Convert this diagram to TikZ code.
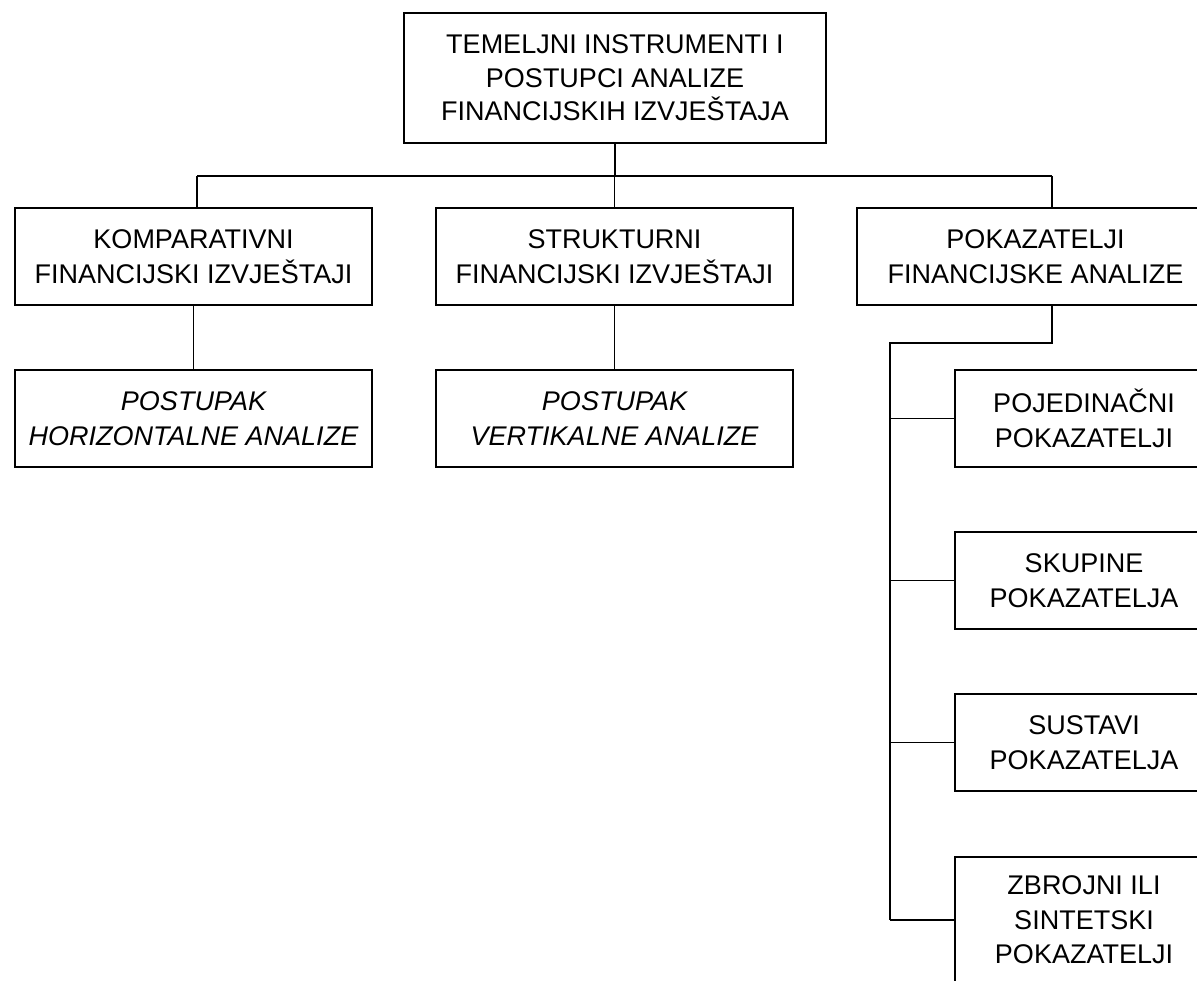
\documentclass[tikz,border=0pt]{standalone}
\usepackage{fontspec}
\setmainfont{Liberation Sans}
\begin{document}
\begin{tikzpicture}[x=1pt,y=-1pt,
  box/.style={draw, line width=1.4pt, rectangle, align=center, inner sep=0pt,
    font=\fontsize{27}{34.5}\selectfont},
  wide/.style={box, minimum width=357pt, minimum height=97pt},
  kid/.style={box, minimum width=258pt, minimum height=97pt},
  conn/.style={line width=1.4pt}]
\useasboundingbox (0,0) rectangle (1197,981);
\fill[white] (0,0) rectangle (1197,981);
\clip (0,0) rectangle (1197,981);

\node[box, minimum width=422pt, minimum height=130pt, font=\fontsize{27}{33.5}\selectfont] (T) at (615,78)
  {TEMELJNI INSTRUMENTI I\\POSTUPCI ANALIZE\\FINANCIJSKIH IZVJEŠTAJA};

\node[wide] (K) at (193.5,256.5) {KOMPARATIVNI\\FINANCIJSKI IZVJEŠTAJI};
\node[wide] (S) at (614.5,256.5) {STRUKTURNI\\FINANCIJSKI IZVJEŠTAJI};
\node[wide] (P) at (1035.5,256.5) {POKAZATELJI\\FINANCIJSKE ANALIZE};

\node[wide] (KH) at (193.5,418.5) {\itshape POSTUPAK\\\itshape HORIZONTALNE ANALIZE};
\node[wide] (SV) at (614.5,418.5) {\itshape POSTUPAK\\\itshape VERTIKALNE ANALIZE};

\node[kid] (C1) at (1084,418.5) {POJEDINAČNI\\POKAZATELJI};
\node[kid] (C2) at (1084,580.5) {SKUPINE\\POKAZATELJA};
\node[kid] (C3) at (1084,742.5) {SUSTAVI\\POKAZATELJA};
\node[kid, minimum height=126pt] (C4) at (1084,920) {ZBROJNI ILI\\SINTETSKI\\POKAZATELJI};

\coordinate (busL) at (197,176);
\coordinate (busR) at (1052,176);
\coordinate (trunk) at (890,343);

\draw[conn] (T.south) -- (T.south |- busL);
\draw[conn] (busL) -- (busR);
\draw[conn] (busL) -- (busL |- K.north);
\draw[conn] (S.north |- busL) -- (S.north);
\draw[conn] (busR) -- (busR |- P.north);

\draw[conn] (K.south) -- (KH.north);
\draw[conn] (S.south) -- (SV.north);

\draw[conn] (busR |- P.south) -- (busR |- trunk) -- (trunk) -- (trunk |- C4.west);
\draw[conn] (trunk |- C1.west) -- (C1.west);
\draw[conn] (trunk |- C2.west) -- (C2.west);
\draw[conn] (trunk |- C3.west) -- (C3.west);
\draw[conn] (trunk |- C4.west) -- (C4.west);
\end{tikzpicture}
\end{document}
